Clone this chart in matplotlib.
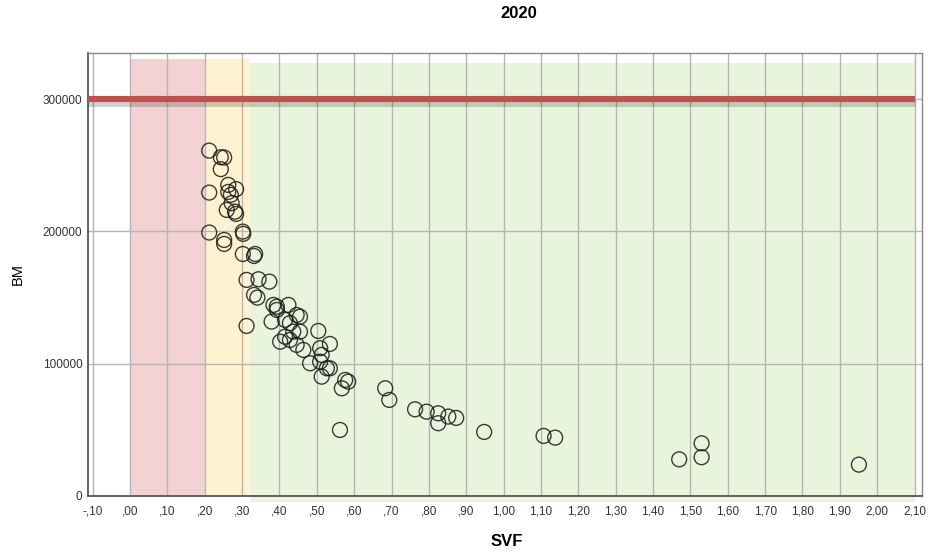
import matplotlib.pyplot as plt
import matplotlib.patheffects as pe
from matplotlib.patches import Rectangle
from matplotlib.ticker import FuncFormatter

# --- data ---
svf = [0.212, 0.243, 0.252, 0.243, 0.212, 0.263, 0.284, 0.263, 0.270, 0.272,
       0.259, 0.281, 0.284, 0.212, 0.252, 0.252, 0.302, 0.303, 0.302, 0.335,
       0.332, 0.312, 0.344, 0.373, 0.332, 0.341, 0.312, 0.384, 0.393, 0.424,
       0.393, 0.379, 0.415, 0.428, 0.446, 0.455, 0.402, 0.415, 0.428, 0.437,
       0.455, 0.446, 0.464, 0.482, 0.509, 0.527, 0.504, 0.535, 0.509, 0.513,
       0.513, 0.535, 0.567, 0.576, 0.584, 0.562, 0.683, 0.694, 0.763, 0.794,
       0.825, 0.825, 0.852, 0.873, 0.948, 1.107, 1.138, 1.470, 1.530, 1.530,
       1.951]
bm = [261000, 256000, 255800, 247000, 229300, 235100, 231900, 229800, 227600, 221300,
      216200, 214900, 213200, 199100, 193500, 190500, 199800, 198100, 182900, 182900,
      181400, 163300, 163800, 162000, 152000, 149900, 128500, 144400, 143100, 144400,
      140600, 131800, 133100, 130600, 136800, 135500, 116600, 120400, 117900, 124200,
      124200, 114200, 110400, 100300, 101500, 96500, 124700, 114900, 111700, 106600,
      90200, 96500, 81400, 87700, 86400, 49900, 81400, 72600, 65500, 63700,
      62500, 55000, 60000, 59000, 48400, 45400, 44100, 27700, 39800, 29300,
      23700]

# zoner (svf från, svf till, färg)
zoner = [(0.0, 0.2, '#f2d2d2'), (0.2, 0.32, '#fff2d0'), (0.32, 2.10, '#e8f5dc')]
granslinje = 300000

plt.rcParams['font.family'] = ['Liberation Sans', 'DejaVu Sans']

fig = plt.figure(figsize=(9.29, 5.53), dpi=100)
ax = fig.add_axes([0.0947, 0.1031, 0.8978, 0.8011])

ax.set_xlim(-0.1125, 2.12)
ax.set_ylim(0, 334800)

# bakgrundszoner
for x0, x1, farg in zoner:
    if x0 < 0.3:
        ax.add_patch(Rectangle((x0, 0), x1 - x0, 330300, facecolor=farg,
                               edgecolor='none', zorder=0))
    else:
        ax.add_patch(Rectangle((x0, -4500), x1 - x0, 331500, facecolor=farg,
                               edgecolor='none', zorder=0, clip_on=False))

ax.set_xticks([i / 10 for i in range(-1, 22)])
ax.set_yticks([0, 100000, 200000, 300000])
ax.grid(True, color='#b5b5b5', linewidth=1.0, zorder=1)
ax.set_axisbelow(True)


def svf_fmt(v, pos):
    s = f"{v:.2f}".replace('.', ',')
    if s.startswith('0,'):
        s = s[1:]
    elif s.startswith('-0,'):
        s = '-' + s[2:]
    return s


ax.xaxis.set_major_formatter(FuncFormatter(svf_fmt))
ax.tick_params(length=0, labelsize=8.5, colors='#333333')
ax.tick_params(axis='x', pad=7)
ax.tick_params(axis='y', pad=4)

# gränslinje med skugga
ax.plot([-0.1125, 2.10], [granslinje, granslinje], color='#c0504d', linewidth=4.4,
        zorder=3, solid_capstyle='butt',
        path_effects=[pe.SimpleLineShadow(offset=(0, -3), alpha=0.18, linewidth=5),
                      pe.Normal()])

ax.scatter(svf, bm, s=115, facecolors='none', edgecolors='#1a1a1a',
           linewidths=1.0, alpha=0.85, zorder=4)

for side in ['left', 'bottom']:
    ax.spines[side].set_color('#555555')
    ax.spines[side].set_linewidth(1.3)
for side in ['top', 'right']:
    ax.spines[side].set_color('#888888')
    ax.spines[side].set_linewidth(1.0)

fig.text(519 / 929, 1 - 14 / 553, '2020', ha='center', va='center',
         fontsize=12, fontweight='bold')
fig.text(507 / 929, 1 - 542 / 553, 'SVF', ha='center', va='center',
         fontsize=12, fontweight='bold')
fig.text(18 / 929, 1 - 274 / 553, 'BM', ha='center', va='center',
         fontsize=10.5, rotation=90)

fig.savefig('out.png', dpi=100)
